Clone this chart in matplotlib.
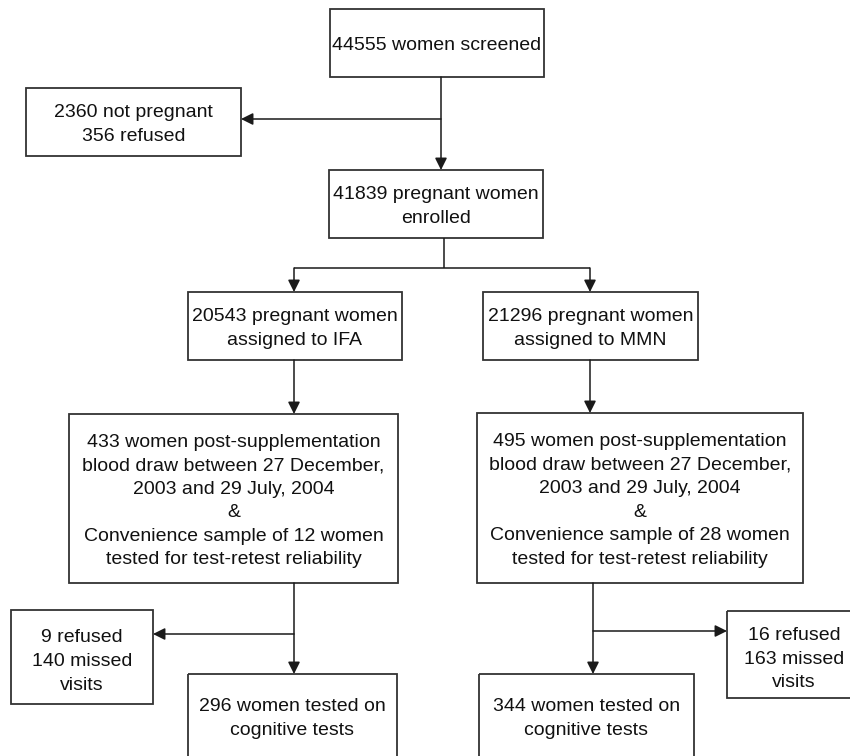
import matplotlib
matplotlib.use("Agg")
import matplotlib.pyplot as plt
from matplotlib.patches import Rectangle

# counts shown in the flow diagram
screened = 44555
not_pregnant = 2360
refused_enrol = 356
enrolled = 41839
arm_names = ["IFA", "MMN"]
arm_assigned = [20543, 21296]
arm_blood_draw = [433, 495]
arm_retest = [12, 28]
arm_refused = [9, 16]
arm_missed = [140, 163]
arm_tested = [296, 344]

LINE = "#1a1a1a"
EDGE = "#333333"
FONT = ["Liberation Sans", "DejaVu Sans"]
FS = 14
STEP = 23.5  # pixels between text lines

fig = plt.figure(figsize=(8.5, 7.56), dpi=100)
ax = fig.add_axes([0, 0, 1, 1])
ax.set_xlim(0, 850)
ax.set_ylim(756, 0)
ax.axis("off")


def box(x0, y0, x1, y1, text, ty=None):
    ax.add_patch(Rectangle((x0, y0), x1 - x0, y1 - y0, fill=False,
                           edgecolor=EDGE, linewidth=1.3, clip_on=False))
    if ty is None:
        ty = (y0 + y1) / 2
    rows = text.split("\n")
    first = ty - STEP * (len(rows) - 1) / 2
    for k, row in enumerate(rows):
        ax.text((x0 + x1) / 2, first + k * STEP + 7, row, ha="center",
                va="baseline", fontsize=FS, family=FONT, color="#111111")


def line(xs, ys):
    ax.plot(xs, ys, color=LINE, linewidth=1.1, solid_capstyle="butt")


def arrow(x0, y0, x1, y1):
    ax.annotate("", xy=(x1, y1), xytext=(x0, y0),
                arrowprops=dict(arrowstyle="-|>", color=LINE, lw=1.1,
                                mutation_scale=18, shrinkA=0, shrinkB=0))


# top part
box(330, 9, 544, 77, f"{screened} women screened")
box(26, 88, 241, 156, f"{not_pregnant} not pregnant\n{refused_enrol} refused")
arrow(441, 77, 441, 170)
arrow(441, 119, 241, 119)
box(329, 170, 543, 238, f"{enrolled} pregnant women\nenrolled")

# split into two arms
line([444, 444], [238, 268])
line([294, 590], [268, 268])
arm_x = [294, 590]
arm_box = [(188, 402), (483, 698)]
for xc in arm_x:
    arrow(xc, 268, xc, 292)

blood_box = [(69, 414, 398, 583), (477, 413, 803, 583)]
down_x = [294, 593]
side_box = [(11, 610, 153, 704), (727, 611, 861, 698)]
side_y = [634, 631]
tested_box = [(188, 674, 397, 800), (479, 674, 694, 800)]

for i in range(2):
    bx0, bx1 = arm_box[i]
    box(bx0, 292, bx1, 360,
        f"{arm_assigned[i]} pregnant women\nassigned to {arm_names[i]}")
    x0, y0, x1, y1 = blood_box[i]
    arrow(arm_x[i], 360, arm_x[i], y0)
    box(x0, y0, x1, y1,
        f"{arm_blood_draw[i]} women post-supplementation\n"
        "blood draw between 27 December,\n2003 and 29 July, 2004\n&\n"
        f"Convenience sample of {arm_retest[i]} women\n"
        "tested for test-retest reliability")
    vx = down_x[i]
    sx0, sy0, sx1, sy1 = side_box[i]
    box(sx0, sy0, sx1, sy1,
        f"{arm_refused[i]} refused\n{arm_missed[i]} missed\nvisits",
        ty=(sy0 + sy1) / 2 + 2)
    tx0, ty0, tx1, ty1 = tested_box[i]
    arrow(vx, y1, vx, ty0)
    arrow(vx, side_y[i], sx1 if i == 0 else sx0, side_y[i])
    box(tx0, ty0, tx1, ty1,
        f"{arm_tested[i]} women tested on\ncognitive tests", ty=716)

fig.savefig("out.png", dpi=100, facecolor="white")
